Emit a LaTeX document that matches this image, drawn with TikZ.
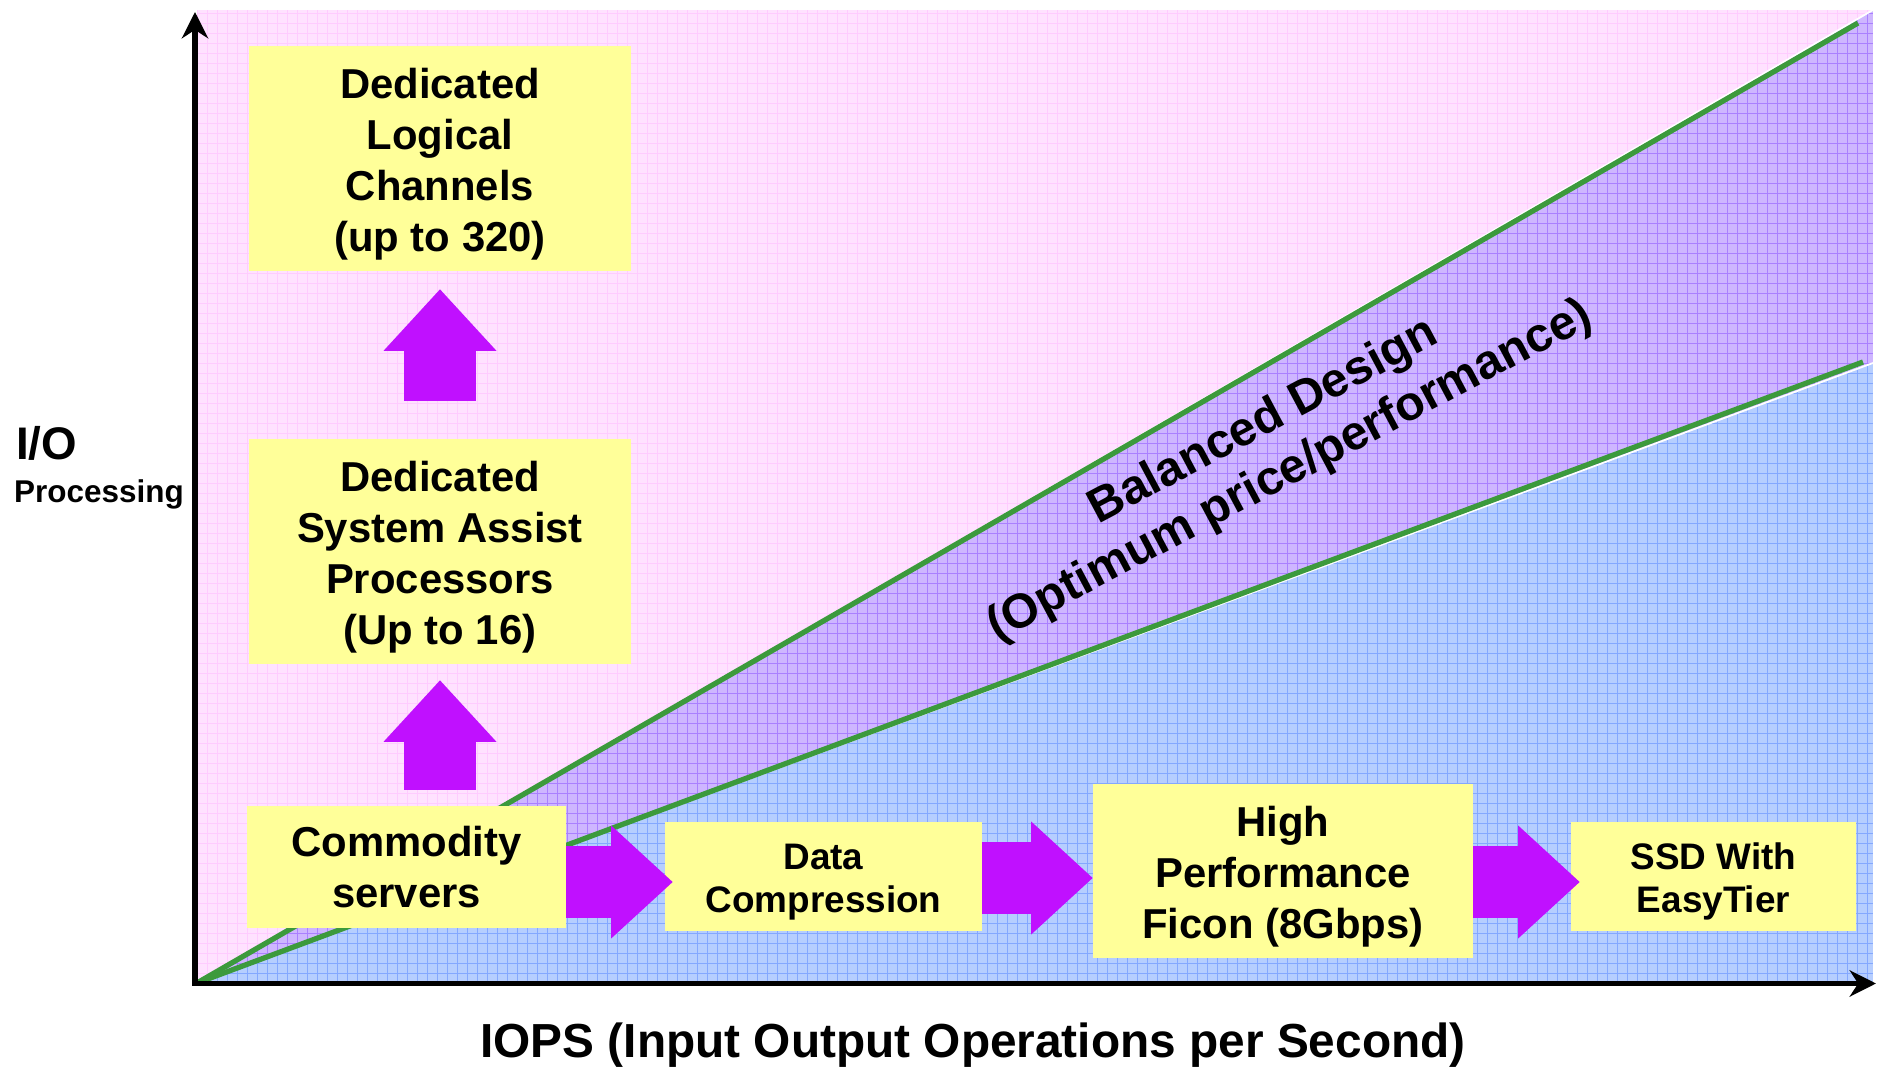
\documentclass[tikz,border=0pt]{standalone}
\usepackage{fontspec}
\setmainfont{Liberation Sans}
\usetikzlibrary{arrows.meta}

\definecolor{pinkbg}{RGB}{255,226,255}
\definecolor{pinkgrid}{RGB}{255,204,255}
\definecolor{purplebg}{RGB}{206,182,255}
\definecolor{purplegrid}{RGB}{170,128,255}
\definecolor{bluebg}{RGB}{182,206,255}
\definecolor{bluegrid}{RGB}{132,168,255}
\definecolor{boxyellow}{RGB}{255,255,153}
\definecolor{arrowmagenta}{RGB}{192,16,255}
\definecolor{bandgreen}{RGB}{60,154,60}

\newcommand{\bigboxfont}{\fontsize{23.8}{28.9}\selectfont\bfseries}
\newcommand{\smallboxfont}{\fontsize{21}{24.4}\selectfont\bfseries}
% extra room above the first line, so the text sits a little lower in its box
\newcommand{\toproom}{\rule{0pt}{1.0em}}

\begin{document}
\begin{tikzpicture}[x = 0.2cm, y = 0.2cm,
		infobox/.style = {fill = boxyellow, inner sep = 0pt, align = center, font = \bigboxfont},
		smallbox/.style = {infobox, font = \smallboxfont},
		fatarrow/.style = {arrowmagenta, line width = 1.43cm, -{Triangle[length = 1.23cm, width = 2.26cm, line width = 0pt]}},
		bandline/.style = {bandgreen, line width = 3pt},
		finegrid/.style = {line width = 0.4pt, step = 0.2cm}]
	\useasboundingbox (-19.7,-8.6) rectangle (168.4,98.3);

	% three regions, each with its own grid
	\begin{scope}
		\clip (0,0) rectangle (167.6,97.3);
		\fill [pinkbg] (0,0) rectangle (167.6,97.3);
		\draw [pinkgrid, finegrid] (0,0) grid (167.6,97.3);
	\end{scope}
	\begin{scope}
		\clip (0,0) -- (167.6,97.3) -- (167.6,62) -- cycle;
		\fill [purplebg] (0,0) rectangle (167.6,97.3);
		\draw [purplegrid, finegrid] (0,0) grid (167.6,97.3);
	\end{scope}
	\begin{scope}
		\clip (0,0) -- (167.6,62) -- (167.6,0) -- cycle;
		\fill [bluebg] (0,0) rectangle (167.6,97.3);
		\draw [bluegrid, finegrid] (0,0) grid (167.6,97.3);
	\end{scope}

	\draw [white, line width = 1pt] (0,0) -- (167.6,97.3) (0,0) -- (167.6,62);
	\draw [bandline] (0,0) -- (166.1,96.0);
	\draw [bandline] (0,0) -- (166.6,62.1);

	\draw [line width = 3pt, {Stealth[length = 15pt, width = 15pt]}-{Stealth[length = 15pt, width = 15pt]}]
		(-0.2,97.1) -- (-0.2,-0.05) -- (167.9,-0.05);

	\node [anchor = base west, font = \fontsize{26}{30}\selectfont\bfseries] (io) at (-18.7,52.3) {I/O};
	\node [anchor = base west, font = \fontsize{17.9}{21}\selectfont\bfseries] (proc) at (-18.9,48.0) {Processing};
	\node [anchor = base, font = \fontsize{27.2}{32}\selectfont\bfseries] (iops) at (77.6,-7.4) {IOPS (Input Output Operations per Second)};

	\node [rotate = 28, align = center, font = \fontsize{27.4}{32}\selectfont\bfseries] (balance) at (108.0,53.6)
		{Balanced Design\\(Optimum price/performance)};

	% boxes
	\node [infobox, minimum width = 7.64cm, minimum height = 4.5cm] (chan) at (24.3,82.45) {\toproom Dedicated\\Logical\\Channels\\(up to 320)};
	\node [infobox, minimum width = 7.64cm, minimum height = 4.5cm] (sap) at (24.3,43.15) {\toproom Dedicated\\System Assist\\Processors\\(Up to 16)};
	\node [infobox, minimum width = 6.38cm, minimum height = 2.44cm] (comm) at (20.95,11.6) {Commodity\\servers};
	\node [smallbox, minimum width = 6.34cm, minimum height = 2.18cm] (comp) at (62.65,10.65) {\toproom Data\\Compression};
	\node [infobox, minimum width = 7.6cm, minimum height = 3.48cm] (ficon) at (108.6,11.2) {\toproom High\\Performance\\Ficon (8Gbps)};
	\node [smallbox, minimum width = 5.7cm, minimum height = 2.18cm] (ssd) at (151.65,10.65) {\toproom SSD With\\EasyTier};

	% arrows between boxes
	\draw [fatarrow] ([yshift = 0.76cm]sap.north) -- ([yshift = -0.36cm]chan.south);
	\draw [fatarrow] ([yshift = 0.32cm]comm.north -| sap.south) -- ([yshift = -0.32cm]sap.south);

	\coordinate (tip1) at ([xshift = 0.16cm, yshift = -0.11cm]comp.west);
	\coordinate (tip2) at ([yshift = -0.14cm]ficon.west);
	\coordinate (tip3) at ([xshift = 0.18cm, yshift = -0.11cm]ssd.west);
	\draw [fatarrow] (comm.east |- tip1) -- (tip1);
	\draw [fatarrow] (comp.east |- tip2) -- (tip2);
	\draw [fatarrow] (ficon.east |- tip3) -- (tip3);
\end{tikzpicture}
\end{document}
